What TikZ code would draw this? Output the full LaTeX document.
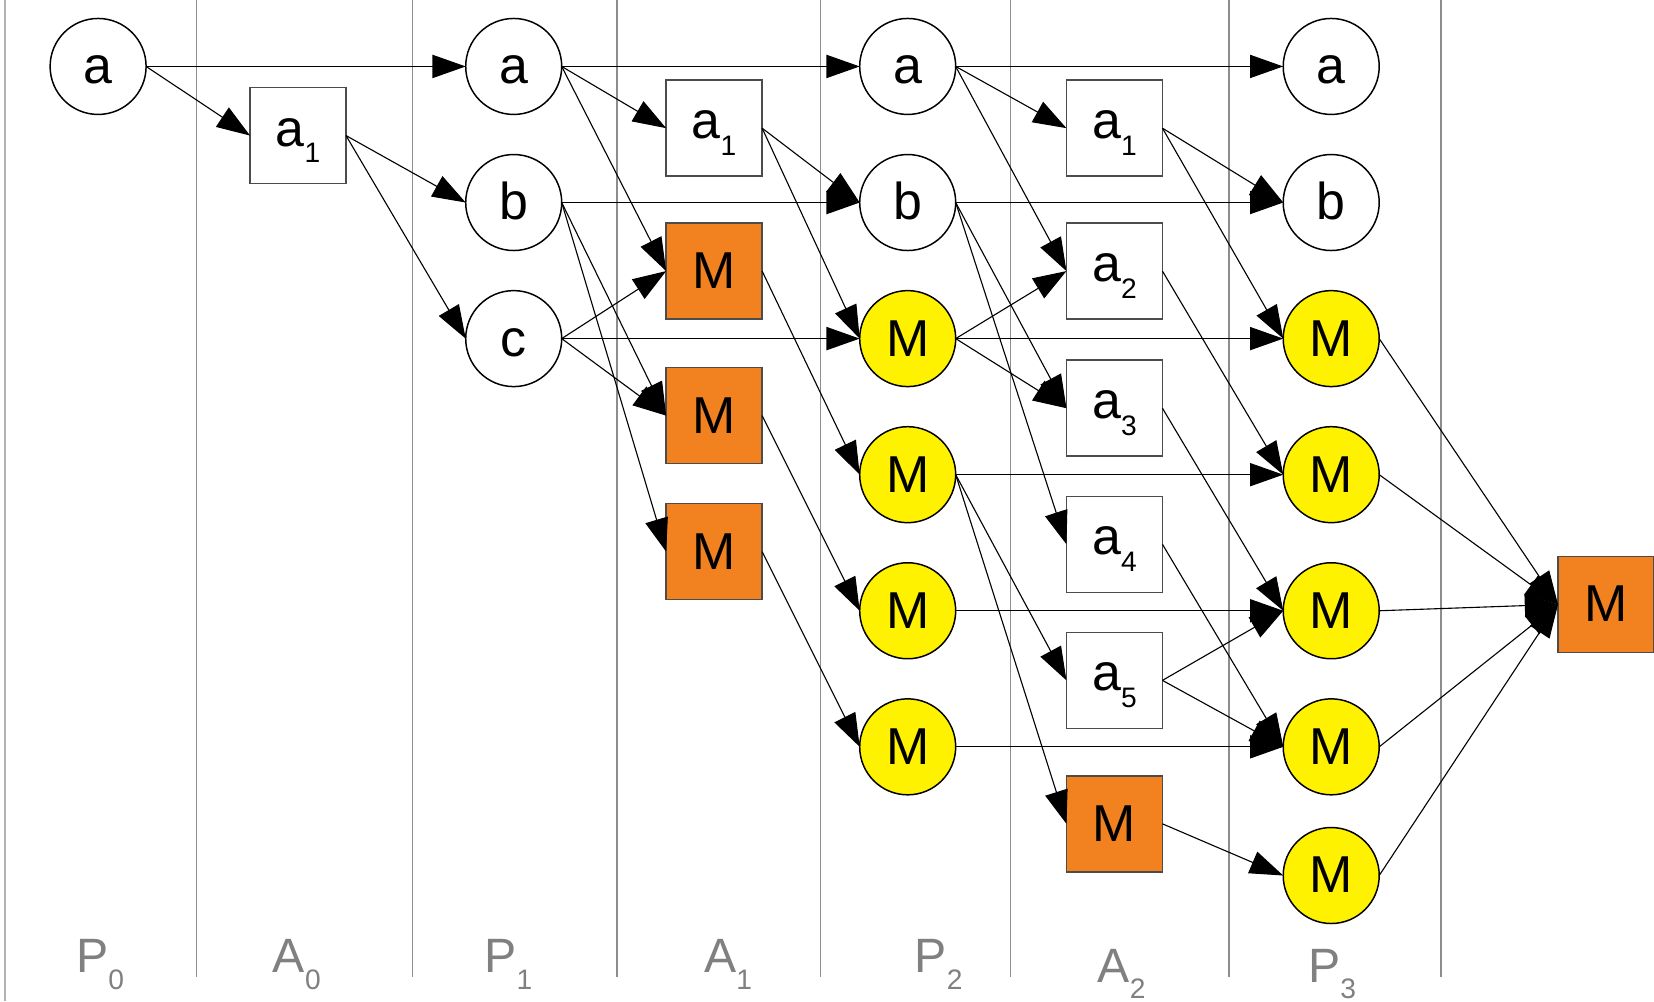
\documentclass[tikz,border=0pt]{standalone}
\usepackage{fontspec}
\setmainfont{Liberation Sans}
\usepackage{xcolor}
\usepackage{tikz}
\usetikzlibrary{shapes.geometric, arrows.meta, positioning}

\definecolor{mstate}{HTML}{FFF200}
\definecolor{mact}{HTML}{F28220}
\definecolor{lanegray}{HTML}{808080}

% lowered index, as in a_1 or P_0
\newcommand{\lowsub}[1]{\raisebox{-1.6mm}{\fontsize{7.6}{8}\selectfont #1}}

\begin{document}
\begin{tikzpicture}[x=0.1mm, y=-0.1mm, font=\fontsize{14}{16}\selectfont]
\tikzstyle{state} = [circle, draw, line width=0.4pt, minimum size=9.1mm, inner sep=0pt, outer sep=0pt, text height=3.3mm, text depth=0pt]
\tikzstyle{act} = [rectangle, draw=black!70, line width=0.4pt, minimum width=9.1mm, minimum height=9.1mm, inner sep=0pt, outer sep=0pt, text height=3.3mm, text depth=0pt]
\tikzstyle{idx} = [text depth=1.3mm]
\tikzstyle{line} = [draw, line width=0.3pt, -{Triangle[length=3.15mm, width=2.2mm]}]
\tikzstyle{lanesep} = [draw=lanegray!90, line width=0.35pt]
\tikzstyle{lane} = [text=lanegray, anchor=base west, inner sep=0pt, font=\fontsize{13}{15}\selectfont]

\path [fill=white, use as bounding box] (0,0) rectangle (1568,949);

% lane separators
\draw [draw=lanegray!60, line width=0.6pt] (4.5,0) -- (4.5,949);
\path [lanesep] (186,0) -- (186,926) (391,0) -- (391,926) (585,0) -- (585,926)
  (778,0) -- (778,926) (958,0) -- (958,926) (1165,0) -- (1165,926) (1366,0) -- (1366,926);

% lane names
\node [lane] (lp0) at (71.5,922) {P\lowsub{0}};
\node [lane] (la0) at (258,922) {A\lowsub{0}};
\node [lane] (lp1) at (458.5,922) {P\lowsub{1}};
\node [lane] (la1) at (667,922) {A\lowsub{1}};
\node [lane] (lp2) at (866.5,922) {P\lowsub{2}};
\node [lane] (la2) at (1040,931) {A\lowsub{2}};
\node [lane] (lp3) at (1239.5,931) {P\lowsub{3}};

% P0 / A0
\node [state] (p0a) at (93,63) {a};
\node [act, idx] (a0a1) at (282.5,128.5) {a\lowsub{1}};

% P1 / A1
\node [state] (p1a) at (487,63) {a};
\node [state] (p1b) at (487,192) {b};
\node [state] (p1c) at (487,321) {c};
\node [act, idx] (a1a1) at (677,121.5) {a\lowsub{1}};
\node [act, fill=mact] (a1m1) at (677,257) {M};
\node [act, fill=mact] (a1m2) at (677,394) {M};
\node [act, fill=mact] (a1m3) at (677,523) {M};

% P2 / A2
\node [state] (p2a) at (860.5,63) {a};
\node [state] (p2b) at (860.5,192) {b};
\node [state, fill=mstate] (p2m2) at (860.5,321) {M};
\node [state, fill=mstate] (p2m3) at (860.5,450) {M};
\node [state, fill=mstate] (p2m4) at (860.5,579) {M};
\node [state, fill=mstate] (p2m5) at (860.5,708) {M};
\node [act, idx] (a2a1) at (1056.5,121.5) {a\lowsub{1}};
\node [act, idx] (a2a2) at (1056.5,257) {a\lowsub{2}};
\node [act, idx] (a2a3) at (1056.5,387) {a\lowsub{3}};
\node [act, idx] (a2a4) at (1056.5,516) {a\lowsub{4}};
\node [act, idx] (a2a5) at (1056.5,645) {a\lowsub{5}};
\node [act, fill=mact] (a2m) at (1056.5,781) {M};

% P3 and the final merge
\node [state] (p3a) at (1262,63) {a};
\node [state] (p3b) at (1262,192) {b};
\node [state, fill=mstate] (p3m2) at (1262,321) {M};
\node [state, fill=mstate] (p3m3) at (1262,450) {M};
\node [state, fill=mstate] (p3m4) at (1262,579) {M};
\node [state, fill=mstate] (p3m5) at (1262,708) {M};
\node [state, fill=mstate] (p3m6) at (1262,830) {M};
\node [act, fill=mact] (out) at (1522.5,573) {M};

\path [line] (p0a.east) -- (p1a.west);
\path [line] (p0a.east) -- (a0a1.west);
\path [line] (a0a1.east) -- (p1b.west);
\path [line] (a0a1.east) -- (p1c.west);

\path [line] (p1a.east) -- (p2a.west);
\path [line] (p1a.east) -- (a1a1.west);
\path [line] (p1a.east) -- (a1m1.west);
\path [line] (p1b.east) -- (p2b.west);
\path [line] (p1b.east) -- (a1m2.west);
\path [line] (p1b.east) -- (a1m3.west);
\path [line] (p1c.east) -- (a1m1.west);
\path [line] (p1c.east) -- (p2m2.west);
\path [line] (p1c.east) -- (a1m2.west);
\path [line] (a1a1.east) -- (p2b.west);
\path [line] (a1a1.east) -- (p2m2.west);
\path [line] (a1m1.east) -- (p2m3.west);
\path [line] (a1m2.east) -- (p2m4.west);
\path [line] (a1m3.east) -- (p2m5.west);

\path [line] (p2a.east) -- (p3a.west);
\path [line] (p2a.east) -- (a2a1.west);
\path [line] (p2a.east) -- (a2a2.west);
\path [line] (p2b.east) -- (p3b.west);
\path [line] (p2b.east) -- (a2a3.west);
\path [line] (p2b.east) -- (a2a4.west);
\path [line] (p2m2.east) -- (a2a2.west);
\path [line] (p2m2.east) -- (p3m2.west);
\path [line] (p2m2.east) -- (a2a3.west);
\path [line] (p2m3.east) -- (p3m3.west);
\path [line] (p2m3.east) -- (a2a5.west);
\path [line] (p2m3.east) -- (a2m.west);
\path [line] (p2m4.east) -- (p3m4.west);
\path [line] (p2m5.east) -- (p3m5.west);
\path [line] (a2a1.east) -- (p3b.west);
\path [line] (a2a1.east) -- (p3m2.west);
\path [line] (a2a2.east) -- (p3m3.west);
\path [line] (a2a3.east) -- (p3m4.west);
\path [line] (a2a4.east) -- (p3m5.west);
\path [line] (a2a5.east) -- (p3m4.west);
\path [line] (a2a5.east) -- (p3m5.west);
\path [line] (a2m.east) -- (p3m6.west);

\path [line] (p3m2.east) -- (out.west);
\path [line] (p3m3.east) -- (out.west);
\path [line] (p3m4.east) -- (out.west);
\path [line] (p3m5.east) -- (out.west);
\path [line] (p3m6.east) -- (out.west);
\end{tikzpicture}
\end{document}
